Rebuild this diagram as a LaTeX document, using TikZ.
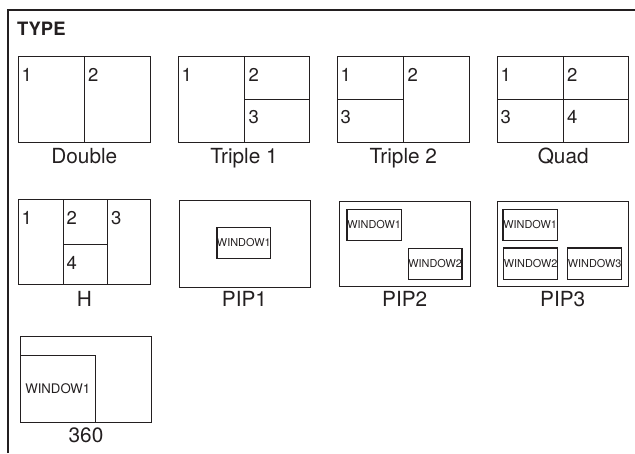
\documentclass[tikz,border=0pt]{standalone}
\usepackage{fontspec}
\setmainfont{TeX Gyre Heros}
\definecolor{inkgray}{HTML}{231F20}

\tikzset{
  screen/.style={draw=inkgray, line width=1pt},
  winbox/.style={draw=inkgray, line width=1.3pt, inner sep=0pt, text=inkgray,
    font=\fontsize{10.9}{10.9}\selectfont},
  cellnum/.style={anchor=base west, inner sep=0pt, text=inkgray,
    font=\fontsize{18.5}{18.5}\selectfont},
  typename/.style={anchor=base, inner sep=0pt, text=inkgray,
    font=\fontsize{20.8}{20.8}\selectfont},
}

\begin{document}
\begin{tikzpicture}[x=1pt, y=-1pt]
  \useasboundingbox (0,0) rectangle (635,453);

  % Frame and title
  \draw[inkgray, line width=2.3pt] (8,453) -- (8,10) -- (635,10);
  \node[anchor=base west, inner sep=0pt, text=inkgray,
        font=\fontsize{18.4}{18.4}\selectfont\bfseries] (title) at (17,35.5) {TYPE};

  % Double
  \draw[screen] (18.7,56) rectangle (150,142);
  \draw[screen] (84,56) -- (84,142);
  \node[cellnum] (dbl1) at (21.5,81) {1};
  \node[cellnum] (dbl2) at (88,81) {2};
  \node[typename] (dbl) at (84.3,163) {Double};

  % Triple 1
  \draw[screen] (178.7,56) rectangle (309.3,142);
  \draw[screen] (244.7,56) -- (244.7,142);
  \draw[screen] (244.7,99) -- (309.3,99);
  \node[cellnum] (tra1) at (181.5,81) {1};
  \node[cellnum] (tra2) at (248.5,81) {2};
  \node[cellnum] (tra3) at (248.5,123.5) {3};
  \node[typename] (tra) at (244,163) {Triple 1};

  % Triple 2
  \draw[screen] (337.7,56) rectangle (469,142);
  \draw[screen] (403.7,56) -- (403.7,142);
  \draw[screen] (337.7,99) -- (403.7,99);
  \node[cellnum] (trb1) at (340.5,81) {1};
  \node[cellnum] (trb2) at (407.5,81) {2};
  \node[cellnum] (trb3) at (340.5,123.5) {3};
  \node[typename] (trb) at (403.3,163) {Triple 2};

  % Quad
  \draw[screen] (497.7,56) rectangle (628.7,142);
  \draw[screen] (563.3,56) -- (563.3,142);
  \draw[screen] (497.7,99) -- (628.7,99);
  \node[cellnum] (quad1) at (500.5,81) {1};
  \node[cellnum] (quad2) at (567,81) {2};
  \node[cellnum] (quad3) at (500.5,123.5) {3};
  \node[cellnum] (quad4) at (567,123.5) {4};
  \node[typename] (quad) at (563.2,163) {Quad};

  % H
  \draw[screen] (18.7,199) rectangle (150,284.7);
  \draw[screen] (63.3,199) -- (63.3,284.7);
  \draw[screen] (107.7,199) -- (107.7,284.7);
  \draw[screen] (63.3,244.7) -- (107.7,244.7);
  \node[cellnum] (hh1) at (21.5,224) {1};
  \node[cellnum] (hh2) at (66.5,224) {2};
  \node[cellnum] (hh3) at (111,224) {3};
  \node[cellnum] (hh4) at (66.5,269) {4};
  \node[typename] (hh) at (84.3,306.5) {H};

  % PIP1
  \draw[screen] (179,200.7) rectangle (310.3,287);
  \node[winbox, minimum width=53pt, minimum height=31pt] (pipa1) at (243.8,242.8) {WINDOW1};
  \node[typename] (pipa) at (244.5,306.5) {PIP1};

  % PIP2
  \draw[screen] (339,201) rectangle (470.3,286.7);
  \node[winbox, minimum width=54.3pt, minimum height=31.4pt] (pipb1) at (374.2,225) {WINDOW1};
  \node[winbox, minimum width=53.7pt, minimum height=31pt] (pipb2) at (435.2,263.8) {WINDOW2};
  \node[typename] (pipb) at (404.7,306.5) {PIP2};

  % PIP3
  \draw[screen] (497,201) rectangle (628.3,286.7);
  \node[winbox, minimum width=54.3pt, minimum height=31pt] (pipc1) at (530.2,224.8) {WINDOW1};
  \node[winbox, minimum width=54pt, minimum height=31.3pt] (pipc2) at (530.7,263.7) {WINDOW2};
  \node[winbox, minimum width=54pt, minimum height=31.3pt] (pipc3) at (594.7,263.7) {WINDOW3};
  \node[typename] (pipc) at (562.7,306.5) {PIP3};

  % 360
  \draw[screen] (20,336) rectangle (151.7,422);
  \draw[screen] (20,355.7) -- (95.7,355.7) -- (95.7,422);
  \node[inner sep=0pt, text=inkgray, font=\fontsize{13.2}{13.2}\selectfont]
    (pan1) at (57.8,388.8) {WINDOW1};
  \node[typename] (pan) at (86,442.7) {360};
\end{tikzpicture}
\end{document}
